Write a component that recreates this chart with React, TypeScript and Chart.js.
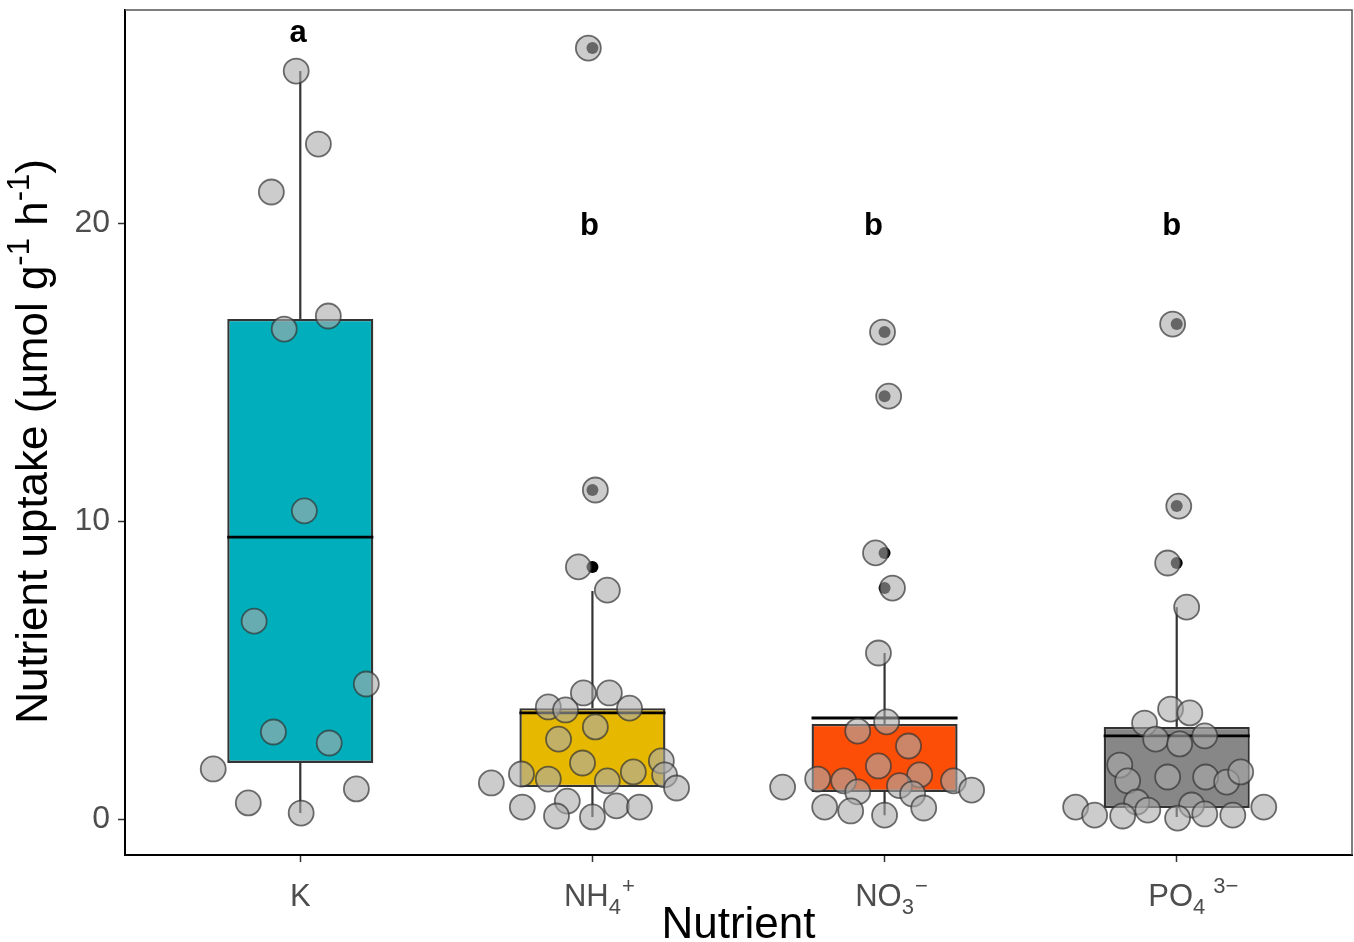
import React, { useEffect, useRef } from 'react';
import { Chart, registerables } from 'chart.js';

Chart.register(...registerables);

// ---- data ----
const categories = ['K', 'NH4+', 'NO3-', 'PO4 3-'];
const labelBase = ['K', 'NH', 'NO', 'PO'];
const labelSub = ['', '4', '3', '4'];
const labelSup = ['', '+', '\u2212', '3\u2212'];
const boxColors = ['#00AFBB', '#E7B800', '#FC4E07', '#878787'];

const boxQ1 = [1.88, 1.07, 0.91, 0.37];
const boxMedian = [9.46, 3.56, 3.39, 2.79];
const boxQ3 = [16.78, 3.72, 3.19, 3.09];
const whiskerLow = [0.2, 0.07, 0.13, 0.07];
const whiskerHigh = [25.1, 7.65, 5.57, 7.11];

const outliersK: number[] = [];
const outliersNH4 = [25.87, 11.04, 8.46];
const outliersNO3 = [16.34, 14.19, 8.93, 7.75];
const outliersPO4 = [16.61, 10.5, 8.59];

const jitterOffsetK = [-0.014, 0.062, -0.099, 0.096, -0.055, 0.014, -0.158, 0.226, -0.092, 0.099, -0.298, 0.192, -0.178, 0.003];
const valuesK = [25.1, 22.65, 21.04, 16.88, 16.44, 10.34, 6.64, 4.53, 2.92, 2.55, 1.68, 1.01, 0.54, 0.2];

const jitterOffsetNH4 = [0.01, -0.048, 0.051, -0.031, 0.058, -0.151, -0.092, 0.127, 0.01, -0.116, -0.034, 0.236, -0.243, -0.151, 0.051, 0.14, 0.247, -0.346, 0.288, -0.086, -0.24, 0.082, 0.161, -0.123, 0.0, -0.014];
const valuesNH4 = [11.04, 8.46, 7.68, 4.23, 4.23, 3.76, 3.66, 3.72, 3.09, 2.68, 1.88, 1.95, 1.51, 1.34, 1.28, 1.58, 1.48, 1.21, 1.04, 0.6, 0.4, 0.44, 0.4, 0.1, 0.07, 25.87];

const jitterOffsetNO3 = [-0.007, 0.014, -0.031, 0.027, -0.021, 0.007, -0.092, 0.082, -0.021, 0.12, -0.229, -0.14, 0.236, 0.051, -0.092, 0.096, -0.349, 0.298, -0.205, -0.116, 0.0, 0.134];
const valuesNO3 = [16.34, 14.19, 8.93, 7.75, 5.57, 3.26, 2.95, 2.45, 1.78, 1.48, 1.34, 1.28, 1.28, 1.12, 0.91, 0.84, 1.07, 0.97, 0.4, 0.27, 0.13, 0.37];

const jitterOffsetPO4 = [-0.014, 0.007, -0.031, 0.034, -0.021, 0.045, -0.11, -0.072, 0.01, 0.096, -0.195, -0.168, -0.031, 0.099, 0.171, 0.219, -0.137, 0.051, -0.346, -0.099, -0.281, -0.185, 0.003, 0.096, 0.192, 0.298];
const valuesPO4 = [16.61, 10.5, 8.59, 7.11, 3.69, 3.56, 3.22, 2.68, 2.52, 2.79, 1.81, 1.28, 1.41, 1.41, 1.24, 1.58, 0.57, 0.47, 0.4, 0.3, 0.13, 0.1, 0.03, 0.17, 0.13, 0.4];

const letters = ['a', 'b', 'b', 'b'];
const letterOffset = [-0.007, -0.01, -0.038, -0.017];
const letterY = [26.36, 19.9, 19.9, 19.9];

const yTicks = [0, 10, 20];
const yMin = -1.208;
const yMax = 27.148;
const xMin = 0.4;
const xMax = 4.6;
const boxHalfWidth = 0.25;

const outlierGroups = [outliersK, outliersNH4, outliersNO3, outliersPO4];
const jitterOffsets = [jitterOffsetK, jitterOffsetNH4, jitterOffsetNO3, jitterOffsetPO4];
const jitterValues = [valuesK, valuesNH4, valuesNO3, valuesPO4];

const FONT = '"Liberation Sans", Arial, Helvetica, sans-serif';

const decorPlugin = {
  id: 'decor',
  afterDatasetsDraw(chart: any) {
    const { ctx, scales } = chart;
    const x = scales.x;
    const y = scales.y;
    ctx.save();
    ctx.font = `bold 31px ${FONT}`;
    ctx.fillStyle = '#000';
    ctx.textAlign = 'center';
    ctx.textBaseline = 'middle';
    letters.forEach((l, i) => {
      ctx.fillText(l, x.getPixelForValue(i + 1 + letterOffset[i]), y.getPixelForValue(letterY[i]));
    });
    ctx.restore();
  },
  afterDraw(chart: any) {
    const { ctx, chartArea, scales } = chart;
    const x = scales.x;
    ctx.save();
    // panel border top / right
    ctx.strokeStyle = '#555';
    ctx.lineWidth = 1.5;
    ctx.beginPath();
    ctx.moveTo(chartArea.left, chartArea.top);
    ctx.lineTo(chartArea.right, chartArea.top);
    ctx.lineTo(chartArea.right, chartArea.bottom);
    ctx.stroke();

    // x tick labels with sub/superscripts
    const baseFont = `31px ${FONT}`;
    const smallFont = `22px ${FONT}`;
    const baseY = chartArea.bottom + 51;
    ctx.fillStyle = '#4d4d4d';
    ctx.textBaseline = 'alphabetic';
    ctx.textAlign = 'left';
    categories.forEach((_, i) => {
      const cx = x.getPixelForValue(i + 1);
      ctx.font = baseFont;
      const wb = ctx.measureText(labelBase[i]).width;
      ctx.font = smallFont;
      const ws = ctx.measureText(labelSub[i]).width;
      const sx = cx - (wb + ws) / 2;
      ctx.font = baseFont;
      ctx.fillText(labelBase[i], sx, baseY);
      ctx.font = smallFont;
      if (labelSub[i]) ctx.fillText(labelSub[i], sx + wb, baseY + 8);
      if (labelSup[i]) ctx.fillText(labelSup[i], sx + wb + ws + (i === 3 ? 8 : 1), baseY - 13);
    });

    // x title
    ctx.fillStyle = '#000';
    ctx.font = `44px ${FONT}`;
    ctx.textAlign = 'center';
    ctx.fillText('Nutrient', (chartArea.left + chartArea.right) / 2, chartArea.bottom + 83);

    // y title (rotated)
    const parts: [string, boolean][] = [
      ['Nutrient uptake (\u00B5mol g', false],
      ['-1', true],
      [' h', false],
      ['-1', true],
      [')', false],
    ];
    const big = `44px ${FONT}`;
    const small = `31px ${FONT}`;
    let total = 0;
    const widths = parts.map(([t, sup]) => {
      ctx.font = sup ? small : big;
      const w = ctx.measureText(t).width;
      total += w;
      return w;
    });
    ctx.translate(47, (chartArea.top + chartArea.bottom) / 2 + 9);
    ctx.rotate(-Math.PI / 2);
    ctx.textAlign = 'left';
    let px = -total / 2;
    parts.forEach(([t, sup], i) => {
      ctx.font = sup ? small : big;
      ctx.fillText(t, px, sup ? -18 : 0);
      px += widths[i];
    });
    ctx.restore();
  },
};

export default function App() {
  const ref = useRef<HTMLCanvasElement | null>(null);

  useEffect(() => {
    document.body.style.margin = '0';
    if (!ref.current) return;

    const datasets: any[] = [];

    // jitter points (top-most)
    const jitterData: { x: number; y: number }[] = [];
    jitterValues.forEach((vals, i) => {
      vals.forEach((v, j) => jitterData.push({ x: i + 1 + jitterOffsets[i][j], y: v }));
    });
    datasets.push({
      type: 'scatter',
      label: 'points',
      data: jitterData,
      pointRadius: 12.5,
      pointBackgroundColor: 'rgba(170,170,170,0.6)',
      pointBorderColor: 'rgba(51,51,51,0.7)',
      pointBorderWidth: 1.8,
      order: 0,
    });

    // outliers
    const outlierData: { x: number; y: number }[] = [];
    outlierGroups.forEach((vals, i) => vals.forEach((v) => outlierData.push({ x: i + 1, y: v })));
    datasets.push({
      type: 'scatter',
      label: 'outliers',
      data: outlierData,
      pointRadius: 6,
      pointBackgroundColor: '#000',
      pointBorderWidth: 0,
      order: 1,
    });

    // medians
    categories.forEach((_, i) => {
      datasets.push({
        type: 'line',
        label: 'median' + i,
        data: [
          { x: i + 1 - boxHalfWidth, y: boxMedian[i] },
          { x: i + 1 + boxHalfWidth, y: boxMedian[i] },
        ],
        borderColor: '#000',
        borderWidth: 2.8,
        pointRadius: 0,
        fill: false,
        order: 2,
      });
    });

    // whiskers
    categories.forEach((_, i) => {
      datasets.push({
        type: 'line',
        label: 'whiskerHigh' + i,
        data: [
          { x: i + 1, y: boxQ3[i] },
          { x: i + 1, y: whiskerHigh[i] },
        ],
        borderColor: '#333',
        borderWidth: 2.2,
        pointRadius: 0,
        fill: false,
        order: 5,
      });
      datasets.push({
        type: 'line',
        label: 'whiskerLow' + i,
        data: [
          { x: i + 1, y: boxQ1[i] },
          { x: i + 1, y: whiskerLow[i] },
        ],
        borderColor: '#333',
        borderWidth: 2.2,
        pointRadius: 0,
        fill: false,
        order: 5,
      });
    });

    // boxes
    datasets.push({
      type: 'bar',
      label: 'boxes',
      data: categories.map((_, i) => ({ x: i + 1, y: [boxQ1[i], boxQ3[i]] })),
      backgroundColor: boxColors,
      borderColor: '#333',
      borderWidth: 2.4,
      borderSkipped: false,
      barPercentage: 2 * boxHalfWidth,
      categoryPercentage: 1,
      order: 4,
    });

    const chart = new Chart(ref.current, {
      type: 'bar',
      data: { datasets },
      options: {
        animation: false,
        responsive: false,
        maintainAspectRatio: false,
        events: [],
        layout: { autoPadding: false, padding: { left: 0, right: 2, top: 10, bottom: 0 } },
        plugins: {
          legend: { display: false },
          tooltip: { enabled: false },
          title: { display: false },
        },
        scales: {
          x: {
            type: 'linear',
            min: xMin,
            max: xMax,
            offset: false,
            afterBuildTicks: (scale: any) => {
              scale.ticks = categories.map((_, i) => ({ value: i + 1 }));
            },
            afterFit: (scale: any) => {
              scale.height = 87;
              scale.paddingLeft = 0;
              scale.paddingRight = 0;
            },
            ticks: { callback: () => '', font: { size: 30, family: FONT } },
            grid: {
              display: true,
              drawOnChartArea: false,
              drawTicks: true,
              tickLength: 7,
              tickColor: '#333',
              tickWidth: 1.5,
              offset: false,
            },
            border: { display: true, color: '#000', width: 2 },
          },
          y: {
            type: 'linear',
            min: yMin,
            max: yMax,
            afterBuildTicks: (scale: any) => {
              scale.ticks = yTicks.map((v) => ({ value: v }));
            },
            afterFit: (scale: any) => {
              scale.width = 125;
              scale.paddingTop = 0;
              scale.paddingBottom = 0;
            },
            ticks: {
              color: '#4d4d4d',
              font: { size: 32, family: FONT },
              padding: 8,
              callback: (v: any) => String(v),
            },
            grid: {
              display: true,
              drawOnChartArea: false,
              drawTicks: true,
              tickLength: 7,
              tickColor: '#333',
              tickWidth: 1.5,
            },
            border: { display: true, color: '#000', width: 2 },
          },
        },
      } as any,
      plugins: [decorPlugin],
    });

    return () => chart.destroy();
  }, []);

  return <canvas ref={ref} width={1354} height={942} style={{ display: 'block' }} />;
}
